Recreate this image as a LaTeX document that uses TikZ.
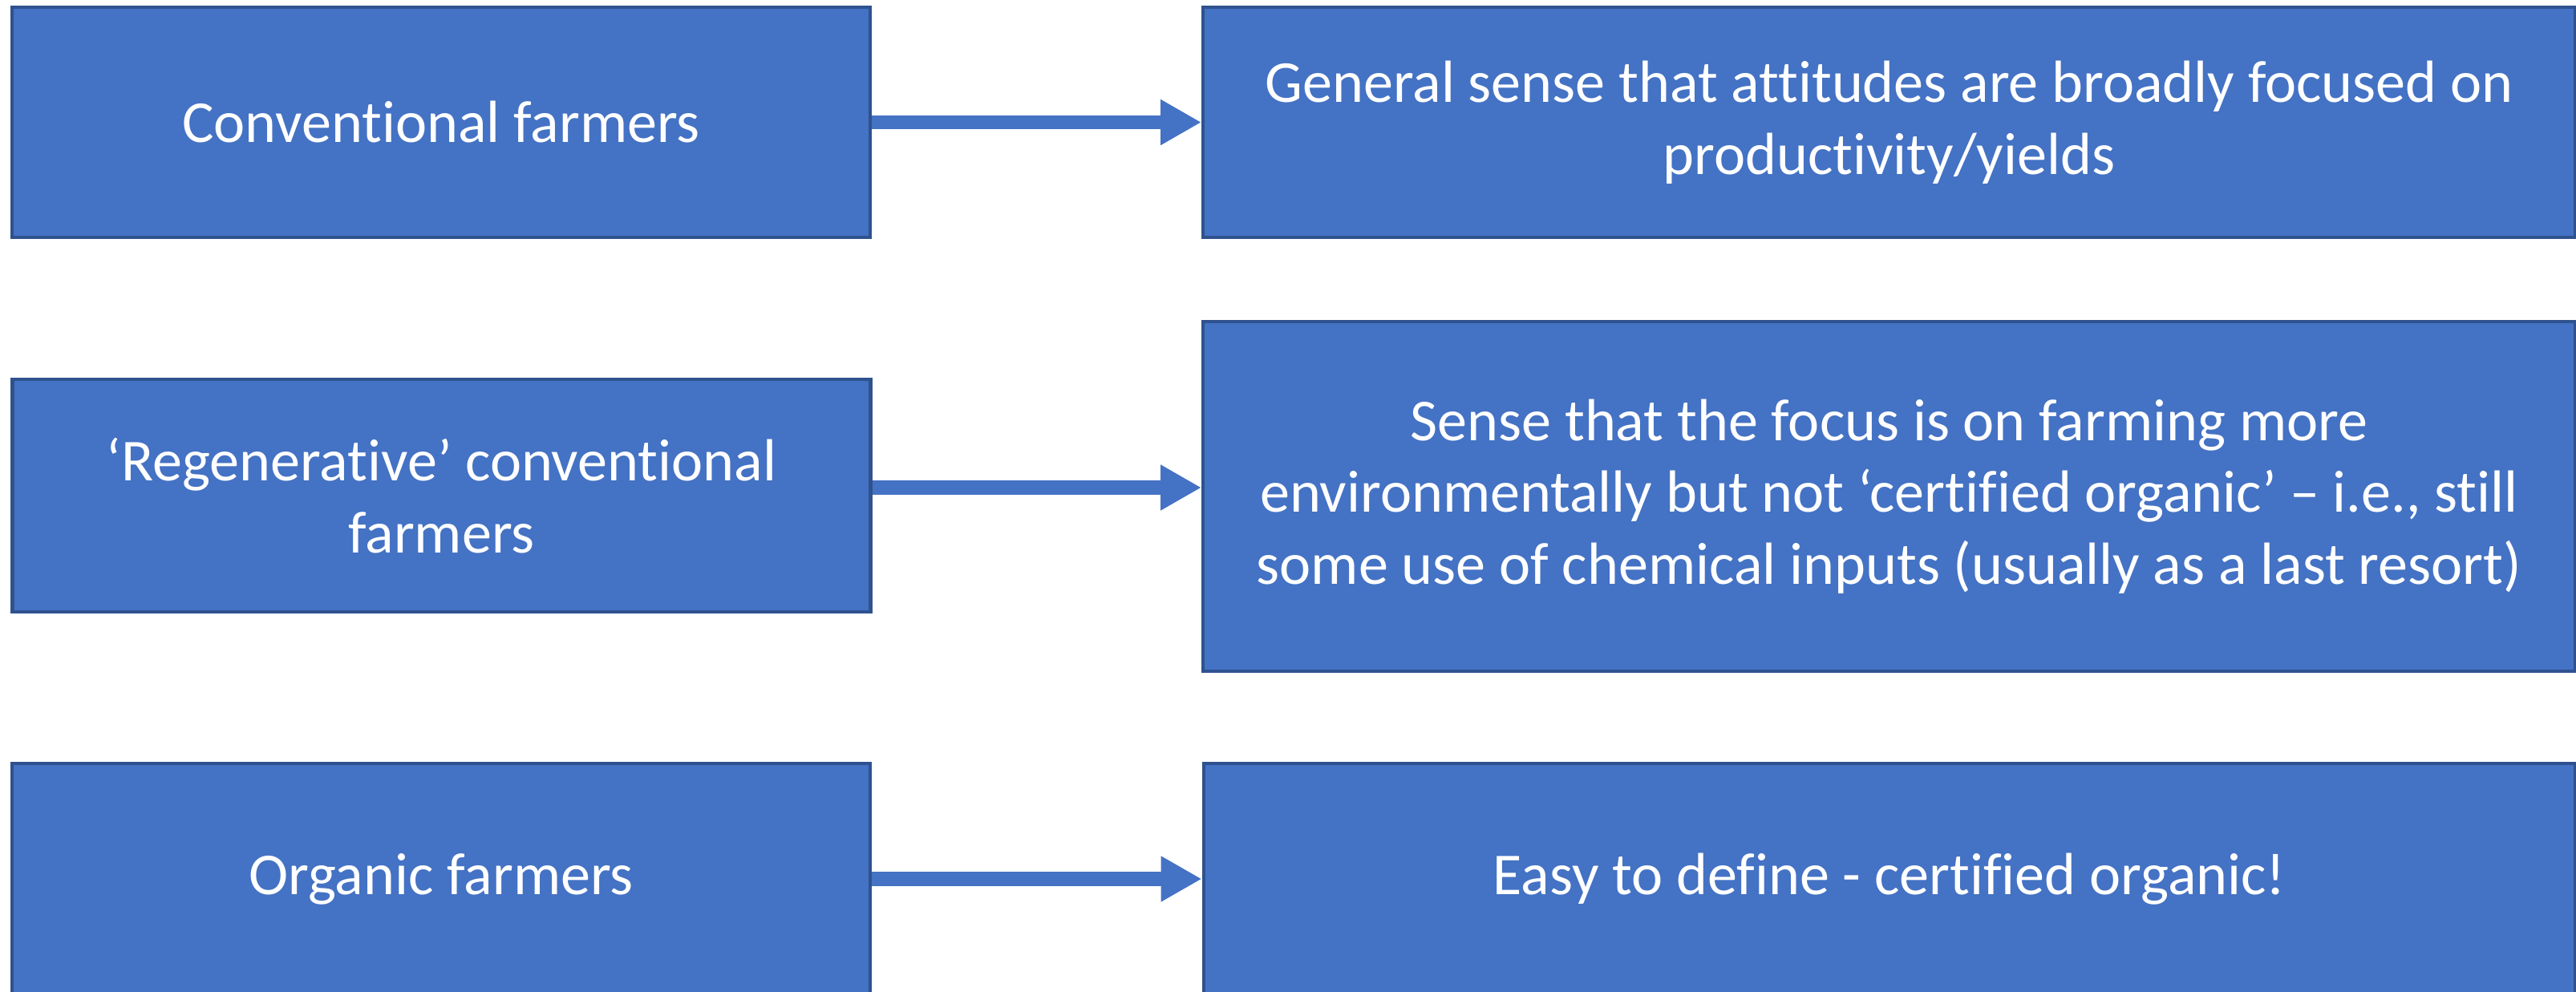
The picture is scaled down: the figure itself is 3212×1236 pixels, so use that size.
\documentclass[tikz,border=0pt]{standalone}
\usepackage{fontspec}
\setmainfont{Carlito}[Ligatures=NoCommon]
\usetikzlibrary{arrows.meta}
\definecolor{boxfill}{HTML}{4472C4}
\definecolor{boxline}{HTML}{2F528F}
\begin{document}
\begin{tikzpicture}[x=0.24pt,y=-0.24pt,
  box/.style={draw=boxline, fill=boxfill, line width=1pt, inner sep=0pt,
    text=white, align=center, font=\fontsize{17.8pt}{21.5pt}\selectfont},
  leftbox/.style={box, minimum width=256.8pt, minimum height=69pt},
  rightbox/.style={box, minimum width=410.6pt},
  link/.style={draw=boxfill, line width=4.1pt,
    -{Triangle[length=12.2pt,width=12.8pt]}}]
  \useasboundingbox (0,0) rectangle (3212,1236);
  % left column: farmer groups
  \node[leftbox] (conv) at (550,152.5) {Conventional farmers};
  \node[leftbox, minimum height=69.6pt] (regen) at (550.5,618) {‘Regenerative’ conventional\\farmers};
  \node[leftbox] (org) at (550,1096) {Organic farmers};
  % right column: descriptions
  \node[rightbox, minimum height=69pt] (convd) at (2355.5,152.5)
    {General sense that attitudes are broadly focused on\\productivity/yields};
  \node[rightbox, minimum height=104.6pt] (regend) at (2355.5,619)
    {Sense that the focus is on farming more\\environmentally but not ‘certified organic’ – i.e., still\\some use of chemical inputs (usually as a last resort)};
  \node[rightbox, minimum height=69pt] (orgd) at (2356,1096)
    {Easy to define - certified organic!};
  % connectors
  \draw[link] (conv.east) -- (convd.west);
  \coordinate (regenout) at ([yshift=2.4pt]regen.east);
  \draw[link] (regenout) -- (regenout -| regend.west);
  \draw[link] (org.east) -- (orgd.west);
\end{tikzpicture}
\end{document}
